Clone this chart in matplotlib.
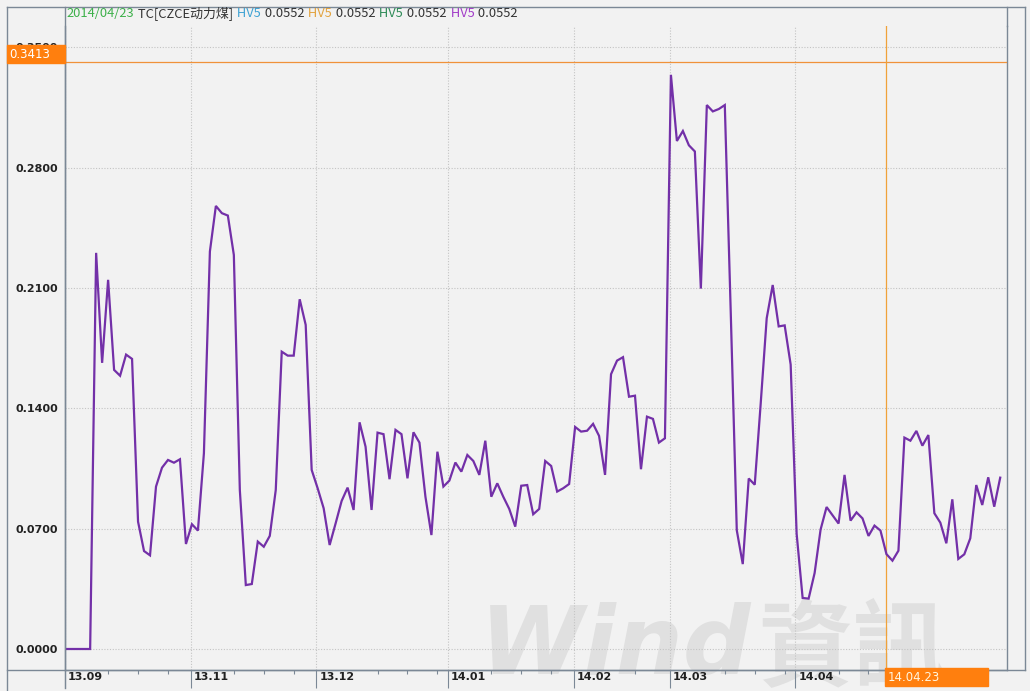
import matplotlib
matplotlib.use("Agg")
import matplotlib.pyplot as plt
from matplotlib.lines import Line2D
from matplotlib.patches import Rectangle

# HV5 of TC (CZCE thermal coal), one value per trading day
hv5 = [0.0, 0.0, 0.0, 0.0, 0.0, 0.2305, 0.1665, 0.2148, 0.1624, 0.1590,
       0.1713, 0.1688, 0.0741, 0.0570, 0.0545, 0.0945, 0.1055, 0.1100, 0.1084, 0.1104,
       0.0611, 0.0726, 0.0689, 0.1139, 0.2313, 0.2578, 0.2536, 0.2522, 0.2293, 0.0925,
       0.0372, 0.0378, 0.0625, 0.0595, 0.0658, 0.0925, 0.1730, 0.1707, 0.1707, 0.2035,
       0.1886, 0.1042, 0.0935, 0.0819, 0.0605, 0.0731, 0.0861, 0.0939, 0.0809, 0.1319,
       0.1177, 0.0809, 0.1259, 0.1250, 0.0988, 0.1275, 0.1250, 0.0993, 0.1261, 0.1201,
       0.0886, 0.0663, 0.1148, 0.0945, 0.0980, 0.1085, 0.1032, 0.1129, 0.1094, 0.1013,
       0.1212, 0.0886, 0.0964, 0.0886, 0.0815, 0.0712, 0.0950, 0.0954, 0.0784, 0.0815,
       0.1094, 0.1065, 0.0916, 0.0935, 0.0960, 0.1292, 0.1265, 0.1270, 0.1310, 0.1240,
       0.1013, 0.1599, 0.1678, 0.1698, 0.1468, 0.1474, 0.1046, 0.1352, 0.1339, 0.1201,
       0.1226, 0.3341, 0.2956, 0.3014, 0.2931, 0.2895, 0.2097, 0.3165, 0.3128, 0.3142,
       0.3165, 0.1950, 0.0691, 0.0494, 0.0992, 0.0956, 0.1430, 0.1925, 0.2118, 0.1877,
       0.1883, 0.1655, 0.0670, 0.0297, 0.0293, 0.0442, 0.0695, 0.0826, 0.0778, 0.0730,
       0.1013, 0.0747, 0.0795, 0.0760, 0.0658, 0.0718, 0.0689, 0.0552, 0.0514, 0.0572,
       0.1230, 0.1212, 0.1269, 0.1183, 0.1245, 0.0790, 0.0735, 0.0615, 0.0871, 0.0524,
       0.0551, 0.0644, 0.0954, 0.0838, 0.0999, 0.0828, 0.0997]

month_labels = ["13.09", "13.11", "13.12", "14.01", "14.02", "14.03", "14.04"]
month_start = [0, 21, 42, 64, 85, 101, 122]
week_ticks = [7, 12, 17, 28, 33, 38, 52, 57, 62, 71, 76, 81, 95, 110, 115, 120, 129, 134, 144, 149, 154]
y_ticks = [0.0, 0.07, 0.14, 0.21, 0.28, 0.35]

cursor_idx = 137
cursor_date = "14.04.23"
cursor_label = "2014/04/23"
max_value = 0.3413
series_name = "TC[CZCE动力煤]"
legend_colors = ["#3FA3D4", "#E3A33E", "#2E8B57", "#A23CC8"]

W, H = 1030, 691
frame_c = "#7B8896"
orange = "#FF7F0E"

fig = plt.figure(figsize=(W / 100, H / 100), dpi=100, facecolor="#F2F2F2")
ax = fig.add_axes([65 / W, 1 - 670 / H, (1006.5 - 65) / W, (670 - 26) / H])
ax.set_facecolor("none")

x = list(range(len(hv5)))
ax.plot(x, hv5, color="#7330A8", lw=1.6, zorder=5, solid_joinstyle="miter")

ax.set_xlim(0, 157.05)
ax.set_ylim(-0.01222, 0.3625)

# grid
ax.set_yticks(y_ticks)
ax.set_yticklabels(["%.4f" % v for v in y_ticks], fontsize=8, fontweight="bold", color="#222222")
ax.tick_params(axis="y", length=0, pad=5)
ax.set_xticks([m - 0.2 for m in month_start])
ax.set_xticklabels([])
ax.set_xticks(week_ticks, minor=True)
ax.tick_params(axis="x", which="major", direction="out", length=13, width=0.8, color=frame_c)
ax.tick_params(axis="x", which="minor", direction="out", length=3, width=0.8, color=frame_c)
ax.grid(True, which="major", color="#C4C4C4", ls=(0, (1, 1.5)), lw=0.8)
ax.set_axisbelow(True)

for m, lab in zip(month_start, month_labels):
    ax.annotate(lab, xy=(m - 0.2, 0), xycoords=("data", "axes fraction"),
                xytext=(2, -1.5), textcoords="offset points", ha="left", va="top",
                fontsize=8, fontweight="bold", color="#202020")

ax.spines["top"].set_visible(False)
for s in ["left", "right", "bottom"]:
    ax.spines[s].set_color(frame_c)
    ax.spines[s].set_linewidth(1.0)

# max line and cursor
ax.axhline(max_value, color="#F0923A", lw=0.9, zorder=4)
ax.axvline(cursor_idx, color="#F0A23A", lw=0.9, zorder=4)

# outer frame lines (figure pixels)
def fline(x0, y0, x1, y1):
    fig.add_artist(Line2D([x0 / W, x1 / W], [1 - y0 / H, 1 - y1 / H], color=frame_c, lw=1.0))

fline(6.5, 7, 6.5, 691)
fline(6.5, 7, 1025, 7)
fline(1025, 7, 1025, 670)
fline(6.5, 670, 1025, 670)
fline(65, 7, 65, 688)
fline(1006.5, 7, 1006.5, 26)

# orange value boxes
fig.add_artist(Rectangle((7 / W, 1 - 63 / H), 58 / W, 18 / H, color=orange, zorder=6))
fig.text(9 / W, 1 - 54 / H, "%.4f" % max_value, color="white", fontsize=8.5, va="center", zorder=7)
fig.add_artist(Rectangle((885 / W, 1 - 686 / H), 103 / W, 18 / H, color=orange, zorder=6))
fig.text(888 / W, 1 - 677.5 / H, cursor_date, color="#FFF6E0", fontsize=8.5, va="center", zorder=7)

# watermark
fig.text(480 / W, 1 - 602 / H, "Wind", fontsize=68, fontweight="bold", style="italic",
         color="#E0E0E0", va="top", zorder=-1)
fig.text(758 / W, 1 - 603 / H, "資訊", fontsize=68, fontweight="bold", family="Noto Sans CJK TC",
         color="#E0E0E0", va="top", zorder=-1)

# header line with colored pieces
pieces = [(cursor_label, "#3DB04A")]
pieces.append((" " + series_name, "#333333"))
for c in legend_colors:
    pieces.append((" HV5", c))
    pieces.append((" %.4f" % hv5[cursor_idx], "#333333"))

renderer = fig.canvas.get_renderer()
px = 66
for txt, col in pieces:
    t = fig.text(px / W, 1 - 13.5 / H, txt, color=col, fontsize=9.3, va="center",
                 family=["Noto Sans CJK SC", "DejaVu Sans"])
    px += t.get_window_extent(renderer).width + 1

fig.savefig("out.png", dpi=100, facecolor=fig.get_facecolor())
